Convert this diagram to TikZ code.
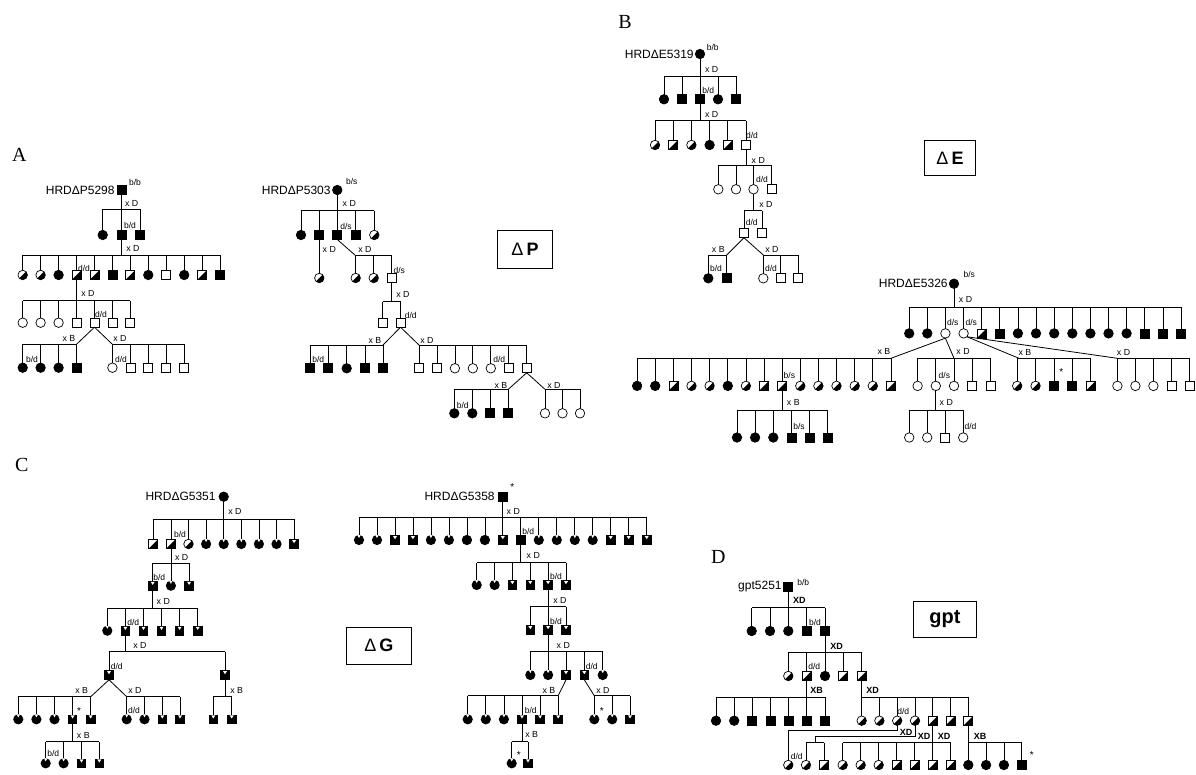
\documentclass[tikz,border=0pt]{standalone}
\usepackage{fontspec}
\setmainfont{Liberation Sans}
\newfontfamily\plfont{Liberation Serif}
\newcommand\kidrow[4]{%
  \foreach \x/\ty [count=\i] in {#4} {%
    \node[\ty] (#1-\i) at (\x,#2) {};
    \draw (#1-\i.north) -- (#1-\i.north |- 0,#3);
  }}
\newcommand\sibline[3]{\draw (#2.north |- 0,#1) -- (#3.north |- 0,#1);}
\newcommand\parline[2]{\draw (#1.south) -- (#1.south |- 0,#2);}
\tikzset{
  symbase/.style={inner sep=0pt, outer sep=0pt, line width=0.7pt},
  symOS/.style={symbase, rectangle, draw, fill=white, minimum size=9pt},
  symFS/.style={symbase, rectangle, draw, fill=black, minimum size=9pt},
  symHS/.style={symbase, rectangle, draw, fill=white, minimum size=9pt,
    path picture={\fill[black] (path picture bounding box.south west) -- (path picture bounding box.south east) -- (path picture bounding box.north east) -- cycle;}},
  symGS/.style={symbase, rectangle, fill=black, minimum size=9.6pt,
    path picture={\fill[white] ([xshift=-2pt,yshift=-0.9pt]path picture bounding box.north) -- ([xshift=2pt,yshift=-0.9pt]path picture bounding box.north) -- ([yshift=-4pt]path picture bounding box.north) -- cycle;}},
  symOC/.style={symbase, circle, draw, fill=white, minimum size=9.5pt},
  symFC/.style={symbase, circle, draw, fill=black, minimum size=9.5pt},
  symHC/.style={symbase, circle, draw, fill=white, minimum size=9.5pt,
    path picture={\fill[black] (path picture bounding box.south west) -- (path picture bounding box.south east) -- (path picture bounding box.north east) -- cycle;}},
  symGC/.style={symbase, circle, fill=black, minimum size=10.2pt,
    path picture={\fill[white] ([xshift=-1.8pt]path picture bounding box.north) -- ([xshift=1.8pt]path picture bounding box.north) -- ([yshift=-3.2pt]path picture bounding box.north) -- cycle;}},
  panlet/.style={font=\plfont\fontsize{20}{22}\selectfont, inner sep=0pt},
  fdlab/.style={font=\fontsize{12}{13}\selectfont, anchor=east, inner sep=0pt},
  gtlab/.style={font=\fontsize{8.5}{9}\selectfont, inner sep=0pt},
  crlab/.style={font=\fontsize{8.8}{9}\selectfont, inner sep=0pt},
  crbold/.style={font=\bfseries\fontsize{9}{10}\selectfont, inner sep=0pt},
  starlab/.style={font=\fontsize{10}{10}\selectfont, inner sep=0pt},
  boxlab/.style={draw, line width=1pt, inner sep=0pt, font=\fontsize{18}{20}\selectfont},
}
\begin{document}
\begin{tikzpicture}[x=1pt,y=-1pt,line width=0.8pt]
\useasboundingbox (0,0) rectangle (1196,774);

% ================= Panel A, left
\node[panlet] (LA) at (19.3,155) {A};
\node[symFS] (a0) at (121.7,190) {};
\node[fdlab] (fa) at (115,190) {HRDΔP5298};
\node[gtlab] (t1) at (135,182) {b/b};
\kidrow{a1}{235}{209.3}{102.7/symFC,121.7/symFS,140/symFS}
\sibline{209.3}{a1-1}{a1-3}
\parline{a0}{209.3}
\node[crlab] (t2) at (131.7,203) {x D};
\node[gtlab] (t3) at (130,225) {b/d};
\kidrow{a2}{275}{255}{22.7/symHC,40.6/symHC,58.6/symFC,76.5/symHS,94.5/symHS,112.4/symFS,130.3/symHS,148.3/symFC,166.2/symOS,184.2/symFC,202.1/symHS,220/symFS}
\sibline{255}{a2-1}{a2-12}
\parline{a1-2}{255}
\node[crlab] (t4) at (133,248) {x D};
\node[gtlab] (t5) at (84,268) {d/d};
\kidrow{a3}{322.7}{300.7}{22.7/symOC,40.6/symOC,58.6/symOC,76.5/symOS,94.5/symOS,112.4/symOS,130.3/symOS}
\sibline{300.7}{a3-1}{a3-7}
\parline{a2-4}{300.7}
\node[crlab] (t6) at (88,293) {x D};
\node[gtlab] (t7) at (101,314) {d/d};
\coordinate (ja1) at (76.5,344.3);
\coordinate (ja2) at (112.4,344.3);
\draw (a3-5.south) -- (ja1);
\draw (a3-5.south) -- (ja2);
\kidrow{a4}{367.7}{344.3}{22.7/symFC,40.6/symFC,58.6/symFC,76.5/symFS}
\sibline{344.3}{a4-1}{a4-4}
\kidrow{a5}{367.7}{344.3}{112.4/symOC,130.35/symOS,148.3/symOS,166.25/symOS,184.2/symOS}
\sibline{344.3}{a5-1}{a5-5}
\node[gtlab] (t8) at (32,359) {b/d};
\node[crlab] (t9) at (69,338) {x B};
\node[gtlab] (t10) at (121,359) {d/d};
\node[crlab] (t11) at (120,338) {x D};

% ================= Panel A, right
\node[symFC] (b0) at (337.3,190) {};
\node[fdlab] (fb) at (331,190) {HRDΔP5303};
\node[gtlab] (t12) at (351.7,181.7) {b/s};
\kidrow{b1}{235}{210.7}{301/symFC,319.3/symFS,337.3/symFS,355.7/symFS,374.3/symHC}
\sibline{210.7}{b1-1}{b1-5}
\parline{b0}{210.7}
\node[crlab] (t13) at (349.3,203.3) {x D};
\node[gtlab] (t14) at (346,226) {d/s};
\node[symHC] (b2a) at (319.3,278) {};
\draw (b1-2.south) -- (b2a.north);
\node[crlab] (t15) at (329.3,249.3) {x D};
\coordinate (jb1) at (355.7,255.7);
\draw (b1-3.south) -- (jb1);
\kidrow{b2}{278}{255.7}{355.7/symHC,373.7/symHC,391.7/symOS}
\sibline{255.7}{b2-1}{b2-3}
\node[crlab] (t16) at (365,249.3) {x D};
\node[gtlab] (t17) at (399.3,270) {d/s};
\kidrow{b3}{322.7}{301.7}{382.5/symOS,400.5/symOS}
\sibline{301.7}{b3-1}{b3-2}
\parline{b2-3}{301.7}
\node[crlab] (t18) at (403,294) {x D};
\node[gtlab] (t19) at (410.7,315) {d/d};
\coordinate (jb2) at (383,345);
\coordinate (jb3) at (419,345);
\draw (b3-2.south) -- (jb2);
\draw (b3-2.south) -- (jb3);
\kidrow{b4}{368.3}{345}{310/symFS,328.3/symFS,346.7/symFC,364.9/symFS,383/symFS}
\sibline{345}{b4-1}{b4-5}
\kidrow{b5}{368.3}{345}{419/symOS,436.95/symOS,454.9/symOC,472.85/symOC,490.8/symOC,508.75/symOS,526.7/symOS}
\sibline{345}{b5-1}{b5-7}
\node[gtlab] (t20) at (318.3,359.3) {b/d};
\node[crlab] (t21) at (375,340) {x B};
\node[crlab] (t22) at (427,340) {x D};
\node[gtlab] (t23) at (499.3,359.3) {d/d};
\coordinate (jb4) at (508.3,389.3);
\coordinate (jb5) at (545,389.3);
\draw (b5-7.south) -- (jb4);
\draw (b5-7.south) -- (jb5);
\kidrow{b6}{413.3}{389.3}{454.3/symFC,472.3/symFC,490.3/symFS,508.3/symFS}
\sibline{389.3}{b6-1}{b6-4}
\kidrow{b7}{413.3}{389.3}{545/symOC,562.5/symOC,580/symOC}
\sibline{389.3}{b7-1}{b7-3}
\node[gtlab] (t24) at (462.7,405) {b/d};
\node[crlab] (t25) at (501,385) {x B};
\node[crlab] (t26) at (554,385) {x D};
\node[boxlab, minimum width=54.6pt, minimum height=37.3pt] (boxP) at (525,249.5) {Δ\hspace{3pt}\textbf{P}};

% ================= Panel B, top
\node[panlet] (LB) at (625,21.7) {B};
\node[symFC] (e0) at (700,54) {};
\node[fdlab] (fe1) at (694,54) {HRDΔE5319};
\node[gtlab] (t27) at (712.7,47.7) {b/b};
\kidrow{e1}{99.3}{76}{664/symFC,682/symFS,700/symFS,718/symFC,736/symFS}
\sibline{76}{e1-1}{e1-5}
\parline{e0}{76}
\node[crlab] (t28) at (711.7,69.3) {x D};
\node[gtlab] (t29) at (708.3,90.7) {b/d};
\kidrow{e2}{145}{120.7}{655/symHC,673.2/symHS,691.4/symHC,709.6/symFC,727.8/symHS,746/symOS}
\sibline{120.7}{e2-1}{e2-6}
\parline{e1-3}{120.7}
\node[crlab] (t30) at (711.7,114.3) {x D};
\node[gtlab] (t31) at (752,135) {d/d};
\kidrow{e3}{189.3}{165.7}{718.3/symOC,736/symOC,753.5/symOC,771.5/symOS}
\sibline{165.7}{e3-1}{e3-4}
\parline{e2-6}{165.7}
\node[crlab] (t32) at (758.3,160) {x D};
\node[gtlab] (t33) at (762,179) {d/d};
\kidrow{e4}{233.3}{210.7}{744/symOS,762.3/symOS}
\sibline{210.7}{e4-1}{e4-2}
\parline{e3-3}{210.7}
\node[crlab] (t34) at (766,204) {x D};
\node[gtlab] (t35) at (751.7,222.3) {d/d};
\coordinate (je1) at (726.7,255);
\coordinate (je2) at (763.3,255);
\draw (e4-1.south) -- (je1);
\draw (e4-1.south) -- (je2);
\kidrow{e5}{278.3}{255}{708.3/symFC,726.7/symFS}
\sibline{255}{e5-1}{e5-2}
\kidrow{e6}{278.3}{255}{763.3/symOC,780.8/symOS,798.3/symOS}
\sibline{255}{e6-1}{e6-3}
\node[crlab] (t36) at (718.3,249.3) {x B};
\node[gtlab] (t37) at (716,268.3) {b/d};
\node[crlab] (t38) at (772,249.3) {x D};
\node[gtlab] (t39) at (771,268.3) {d/d};
\node[boxlab, minimum width=51pt, minimum height=35pt] (boxE) at (950,158) {Δ\hspace{3pt}\textbf{E}};

% ================= Panel B, bottom
\node[symFC] (f0) at (954,283.7) {};
\node[fdlab] (fe2) at (948,283.7) {HRDΔE5326};
\node[gtlab] (t40) at (969.3,274.9) {b/s};
\kidrow{f1}{333.4}{307.4}{909.2/symFC,927.3/symFC,945.4/symOC,963.6/symOC,981.7/symHS,999.8/symFS,1017.9/symFC,1036/symFC,1054.2/symFC,1072.3/symFC,1090.4/symFC,1108.5/symFC,1126.6/symFC,1144.8/symFS,1162.9/symFS,1181/symFS}
\sibline{307.4}{f1-1}{f1-16}
\parline{f0}{307.4}
\node[crlab] (t41) at (965.5,299.8) {x D};
\node[gtlab] (t42) at (952.8,322.7) {d/s};
\node[gtlab] (t43) at (971.2,322.7) {d/s};
\coordinate (jf1) at (890.9,358.3);
\coordinate (jf2) at (954,358.3);
\coordinate (jf3) at (1019,358.3);
\coordinate (jf4) at (1117.4,358.3);
\draw (f1-3.south) -- (jf1);
\draw (f1-3.south) -- (jf2);
\draw (f1-4.south east) -- (jf3);
\draw (f1-4.south east) -- (jf4);
\kidrow{f2}{385.9}{358.3}{637.1/symFC,655.2/symFC,673.4/symHS,691.5/symHC,709.6/symHC,727.8/symFC,745.9/symHC,764/symHS,782.1/symHS,800.3/symHC,818.4/symHC,836.5/symHC,854.7/symHC,872.8/symHC,890.9/symHS}
\sibline{358.3}{f2-1}{f2-15}
\node[crlab] (t44) at (884,351.5) {x B};
\node[gtlab] (t45) at (789.4,375.1) {b/s};
\kidrow{f3}{437.5}{410}{737/symFC,755.1/symFC,773.3/symFC,791.4/symFS,809.6/symFS,827.7/symFS}
\sibline{410}{f3-1}{f3-6}
\parline{f2-9}{410}
\node[crlab] (t46) at (793.3,402.3) {x B};
\node[gtlab] (t47) at (799,426.8) {b/s};
\kidrow{f4}{385.9}{358.3}{917.6/symOC,935.8/symOC,954/symOC,972.2/symOS,990.4/symOS}
\sibline{358.3}{f4-1}{f4-5}
\node[crlab] (t48) at (963,351.4) {x D};
\node[gtlab] (t49) at (944.4,375.1) {d/s};
\kidrow{f5}{437.5}{410}{909.2/symOC,927.2/symOC,945.2/symOS,963.2/symOC}
\sibline{410}{f5-1}{f5-4}
\parline{f4-2}{410}
\node[crlab] (t50) at (946.3,402.3) {x D};
\node[gtlab] (t51) at (970.5,426.8) {d/d};
\kidrow{f6}{385.9}{358.3}{1017.2/symHC,1035.55/symHC,1053.9/symFS,1072.25/symFS,1090.6/symHS}
\sibline{358.3}{f6-1}{f6-5}
\node[crlab] (t52) at (1025,352.6) {x B};
\node[starlab] (t53) at (1061.2,371.7) {*};
\kidrow{f7}{385.9}{358.3}{1117.4/symOC,1135.4/symOC,1153.4/symOC,1171.4/symOS,1189.4/symOS}
\sibline{358.3}{f7-1}{f7-5}
\node[crlab] (t54) at (1123.5,352.6) {x D};

% ================= Panel C, left
\node[panlet] (LC) at (21.7,465) {C};
\node[symFC] (c0) at (223.7,496.7) {};
\node[fdlab] (fc) at (216,496.7) {HRDΔG5351};
\kidrow{c1}{544}{519}{153.3/symHS,170.9/symHS,188.5/symHC,206.1/symGC,223.7/symGC,241.3/symGC,258.9/symGC,276.5/symGC,294.1/symGS}
\sibline{519}{c1-1}{c1-9}
\parline{c0}{519}
\node[crlab] (t55) at (235,511.7) {x D};
\node[gtlab] (t56) at (180,534) {b/d};
\kidrow{c2}{585.7}{563.3}{152.7/symGS,170.9/symGC,189.1/symGS}
\sibline{563.3}{c2-1}{c2-3}
\parline{c1-2}{563.3}
\node[crlab] (t57) at (181.7,557.3) {x D};
\node[gtlab] (t58) at (159.3,577.3) {b/d};
\kidrow{c3}{630.7}{608.3}{107.3/symGC,125.4/symGS,143.5/symGS,161.5/symGS,179.6/symGS,197.7/symGS}
\sibline{608.3}{c3-1}{c3-6}
\parline{c2-1}{608.3}
\node[crlab] (t59) at (163.3,601.7) {x D};
\node[gtlab] (t60) at (133.3,622.3) {d/d};
\kidrow{c4}{675}{651.7}{109/symGS,225/symGS}
\sibline{651.7}{c4-1}{c4-2}
\parline{c3-2}{651.7}
\node[crlab] (t61) at (140,645) {x D};
\node[gtlab] (t62) at (116.7,666.7) {d/d};
\coordinate (jc1) at (90.7,696.7);
\coordinate (jc2) at (126.7,696.7);
\draw (c4-1.south) -- (jc1);
\draw (c4-1.south) -- (jc2);
\kidrow{c5}{719.3}{696.7}{18.3/symGC,36.4/symGC,54.5/symGC,72.6/symGS,90.7/symGS}
\sibline{696.7}{c5-1}{c5-5}
\kidrow{c6}{719.3}{696.7}{126.7/symGC,144.5/symGC,162.3/symGS,180/symGS}
\sibline{696.7}{c6-1}{c6-4}
\kidrow{c7}{719.3}{696.7}{213.3/symGS,231.7/symGS}
\sibline{696.7}{c7-1}{c7-2}
\parline{c4-2}{696.7}
\node[crlab] (t63) at (81.7,690.7) {x B};
\node[starlab] (t64) at (79,710.7) {*};
\node[crlab] (t65) at (135,690.7) {x D};
\node[gtlab] (t66) at (134,710.7) {d/d};
\node[crlab] (t67) at (236.7,690.7) {x B};
\kidrow{c8}{763.3}{741.7}{45.7/symGC,63.6/symGC,81.5/symGS,99.3/symGS}
\sibline{741.7}{c8-1}{c8-4}
\parline{c5-4}{741.7}
\node[crlab] (t68) at (83.3,735) {x B};
\node[gtlab] (t69) at (53.3,753.3) {b/d};

% ================= Panel C, right
\node[symFS] (g0) at (502.8,496.7) {};
\node[fdlab] (fg) at (495,496.7) {HRDΔG5358};
\node[starlab] (t70) at (512.3,486.7) {*};
\kidrow{g1}{540}{517.7}{359/symGC,377/symGC,395/symGS,412.9/symGS,430.9/symGC,448.9/symGC,466.9/symFC,484.9/symFC,502.8/symGS,520.8/symFS,538.8/symGC,556.8/symGC,574.8/symGC,592.7/symGC,610.7/symGS,628.7/symGS,646.7/symGS}
\sibline{517.7}{g1-1}{g1-17}
\parline{g0}{517.7}
\node[crlab] (t71) at (513.3,511) {x D};
\node[gtlab] (t72) at (528.3,531.7) {b/d};
\kidrow{g2}{585}{562.7}{476.7/symGC,494.6/symGC,512.4/symGS,530.3/symGS,548.1/symGS,566/symGS}
\sibline{562.7}{g2-1}{g2-6}
\parline{g1-10}{562.7}
\node[crlab] (t73) at (533.3,555.7) {x D};
\node[gtlab] (t74) at (556,576) {b/d};
\kidrow{g3}{630}{606.7}{530.3/symGS,548.1/symGS,566/symGS}
\sibline{606.7}{g3-1}{g3-3}
\parline{g2-5}{606.7}
\node[crlab] (t75) at (560,600.7) {x D};
\node[gtlab] (t76) at (556,621) {b/d};
\kidrow{g4}{675}{651}{530.3/symGC,548.1/symGC,566/symGS,584.3/symGS,602.7/symGC}
\sibline{651}{g4-1}{g4-5}
\parline{g3-2}{651}
\node[crlab] (t77) at (563.3,645) {x D};
\node[gtlab] (t78) at (591.7,666) {d/d};
\coordinate (jg1) at (558.2,695.7);
\coordinate (jg2) at (594.3,695.7);
\draw (g4-3.south) -- (jg1);
\draw (g4-4.south) -- (jg2);
\kidrow{g5}{719.3}{695.7}{467.7/symGC,485.8/symGC,503.9/symGC,522/symGS,540.1/symGS,558.2/symGS}
\sibline{695.7}{g5-1}{g5-6}
\kidrow{g6}{719.3}{695.7}{594.3/symGC,612.2/symGC,630/symGS}
\sibline{695.7}{g6-1}{g6-3}
\node[crlab] (t79) at (549,690) {x B};
\node[gtlab] (t80) at (530.7,710) {b/d};
\node[crlab] (t81) at (603,690) {x D};
\node[starlab] (t82) at (601.7,710.7) {*};
\kidrow{g7}{763.3}{741.7}{511.7/symGC,528/symGS}
\sibline{741.7}{g7-1}{g7-2}
\parline{g5-4}{741.7}
\node[crlab] (t83) at (531.7,734) {x B};
\node[starlab] (t84) at (518.7,755) {*};
\node[boxlab, minimum width=64.3pt, minimum height=36.7pt] (boxG) at (378.9,645.7) {Δ\hspace{3pt}\textbf{G}};

% ================= Panel D
\node[panlet] (LD) at (718.3,556.7) {D};
\node[symFS] (d0) at (788.3,586.7) {};
\node[fdlab] (fd) at (782,586.7) {gpt5251};
\node[gtlab] (t85) at (803.3,582.7) {b/b};
\kidrow{d1}{631}{607.7}{751.7/symFC,770/symFC,788.3/symFC,806.7/symFS,825/symFS}
\sibline{607.7}{d1-1}{d1-5}
\parline{d0}{607.7}
\node[crbold] (t86) at (799.3,600.7) {XD};
\node[gtlab] (t87) at (815,622.7) {b/d};
\kidrow{d2}{676}{652.7}{788.3/symHC,806.7/symHS,825/symFC,843.3/symHS,861.7/symHS}
\sibline{652.7}{d2-1}{d2-5}
\parline{d1-5}{652.7}
\node[crbold] (t88) at (836.7,646) {XD};
\node[gtlab] (t89) at (814.3,666.7) {d/d};
\kidrow{d3}{720.7}{697.3}{716/symFC,734.2/symFC,752.3/symFS,770.5/symFS,788.7/symFS,806.8/symFS,825/symFS}
\sibline{697.3}{d3-1}{d3-7}
\parline{d2-2}{697.3}
\node[crbold] (t90) at (816.7,690.7) {XB};
\kidrow{d4}{720.7}{697.3}{861.7/symHC,879.4/symHC,897.2/symHC,915/symHC,932.8/symHS,950.5/symHS,968.3/symHS}
\sibline{697.3}{d4-1}{d4-7}
\parline{d2-5}{697.3}
\node[crbold] (t91) at (872.7,690.7) {XD};
\node[gtlab] (t92) at (903.3,711.7) {d/d};
% gen 5
\node[symHC] (d5) at (788.3,765) {};
\coordinate (jd1) at (788.3,730);
\draw (d4-3.south) |- (jd1) -- (d5.north);
\node[crbold] (t93) at (906,732.7) {XD};
\node[gtlab] (t94) at (796.7,756) {d/d};
\coordinate (jd2) at (815,736);
\coordinate (jd3) at (815,742.7);
\draw (d4-4.south) |- (jd2) -- (jd3);
\kidrow{d6}{765}{742.7}{806/symHC,824/symHS}
\sibline{742.7}{d6-1}{d6-2}
\node[crbold] (t95) at (924,736) {XD};
\kidrow{d7}{765}{742.7}{842.7/symHC,860.7/symHC,878.7/symHC,896.7/symHS,914.7/symHS,932.8/symHS,950.7/symHS}
\sibline{742.7}{d7-1}{d7-7}
\parline{d4-5}{742.7}
\node[crbold] (t96) at (944,736.7) {XD};
\kidrow{d8}{765}{742.7}{968.3/symFC,986.1/symFC,1003.9/symFC,1021.7/symFS}
\sibline{742.7}{d8-1}{d8-4}
\parline{d4-7}{742.7}
\node[crbold] (t97) at (980,736) {XB};
\node[starlab] (t98) at (1031.7,755) {*};
\node[boxlab, minimum width=63.4pt, minimum height=36.3pt, font=\bfseries\fontsize{20}{22}\selectfont] (boxD) at (945,619.2) {gpt};
\end{tikzpicture}
\end{document}
